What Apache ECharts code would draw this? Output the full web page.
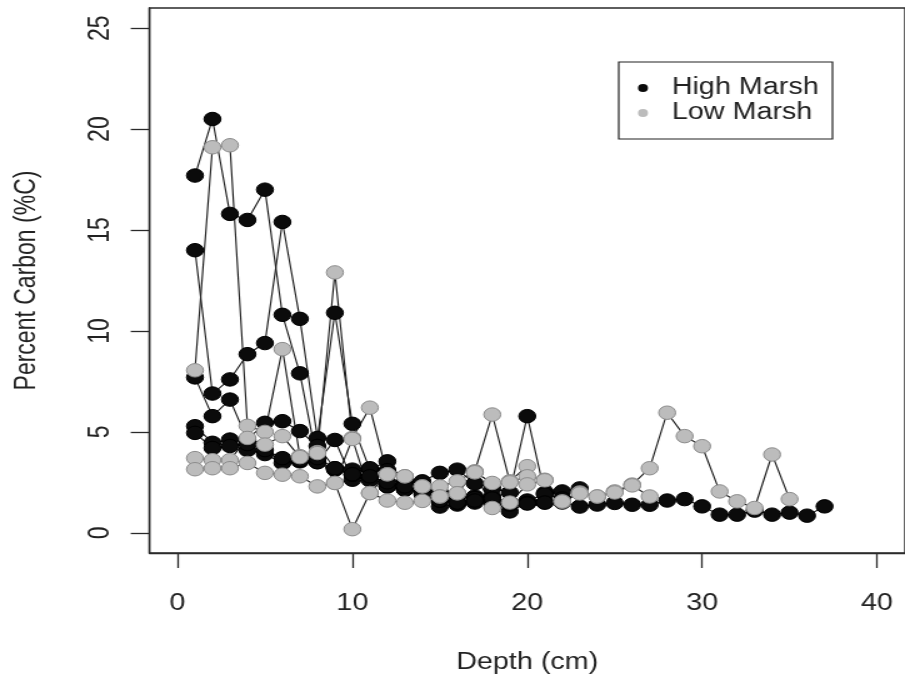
<!DOCTYPE html>
<html>
<head>
<meta charset="utf-8">
<script src="https://cdn.jsdelivr.net/npm/echarts@6.0.0/dist/echarts.min.js"></script>
<style>
  html, body { margin: 0; padding: 0; background: #fff; overflow: hidden; }
  #wrap { width: 905px; height: 685px; overflow: hidden; }
  /* the figure is laid out on a 724px-wide canvas and widened to 905px */
  #chart { width: 724px; height: 685px; transform: scaleX(1.25); transform-origin: 0 0; }
</style>
</head>
<body>
<div id="wrap"><div id="chart"></div></div>
<script>
// Sample depth (cm) for each slice of a core, shared by all cores
const depthCm = [1, 2, 3, 4, 5, 6, 7, 8, 9, 10, 11, 12, 13, 14, 15, 16, 17, 18, 19, 20,
                 21, 22, 23, 24, 25, 26, 27, 28, 29, 30, 31, 32, 33, 34, 35, 36, 37];

// High marsh cores: percent carbon by depth
const highCore1 = [17.7, 20.5, 15.8, 15.5, 17.0, 10.8, 7.9, 3.5, 4.6, 2.63, 2.75, 2.3, 2.14, 2.1,
                   1.3, 1.4, 1.8, 1.8, 1.06, 1.48, 1.5];
const highCore2 = [14.0, 6.9, 7.6, 8.85, 9.4, 15.4, 10.6, 4.7, 10.9, 5.4, 3.13, 3.54, 2.5, 2.55,
                   2.97, 3.13, 2.45, 2.2, 2.0, 5.78, 1.97, 2.05, 2.2];
const highCore3 = [7.7, 5.78, 6.6, 4.6, 5.45, 5.53, 5.04, 4.3, 3.2, 3.13, 3.2, 3.1, 2.6, 2.3,
                   2.0, 1.8, 1.72, 1.5, 1.5, 1.6, 1.9, 1.7];
const highCore4 = [5.28, 4.46, 4.62, 4.1, 3.9, 3.46, 3.54, 3.5, 3.13, 2.88, 2.6, 2.3, 2.14, 2.0,
                   1.6, 1.5, 1.5, 1.5, 1.4, 1.48, 1.5, 1.5, 1.3, 1.4, 1.48, 1.39, 1.39, 1.6, 1.67,
                   1.31, 0.9, 0.9, 1.1, 0.9, 1.0, 0.85, 1.31];
const highCore5 = [4.95, 4.2, 4.3, 4.4, 4.1, 3.7, 3.6, 3.7, 3.2, 2.9, 2.8, 2.5, 2.3, 1.9,
                   1.6, 1.5, 1.6, 1.7, 1.5, 1.45];

// Low marsh cores: percent carbon by depth
const lowCore1 = [8.05, 19.1, 19.2, 5.3, 5.0, 9.1, 3.8, 4.0, 12.9, 4.7, 6.2, 2.9, 2.8, 2.3,
                  2.3, 2.55, 3.05, 5.86, 2.55, 3.3];
const lowCore2 = [3.7, 3.6, 3.6, 4.7, 4.37, 4.79, 3.75, 3.95, 2.47, 4.65, 1.97, 2.9, 2.8, 2.3,
                  1.8, 1.96, 3.0, 2.47, 2.5, 2.8, 2.63, 1.55, 2.0, 1.8, 2.05, 2.39, 3.2, 5.95,
                  4.79, 4.29, 2.05, 1.56, 1.23, 3.88, 1.67];
const lowCore3 = [3.15, 3.2, 3.2, 3.46, 2.97, 2.88, 2.8, 2.3, 2.47, 0.18, 1.97, 1.6, 1.49, 1.58,
                  1.8, 1.96, 3.0, 1.23, 1.5, 2.4, 2.6, 1.55, 1.95, 1.8, 2.0, 2.35, 1.8];

// Axis ticks
const depthTicks = [0, 10, 20, 30, 40];
const carbonTicks = [0, 5, 10, 15, 20, 25];

const FONT = 'Liberation Sans, Arial, Helvetica, sans-serif';
const INK = '#222';

function coreSeries(name, values, fill, edge) {
  return {
    name: name,
    type: 'line',
    data: values.map((v, i) => [depthCm[i], v]),
    symbol: 'circle',
    symbolSize: 13.5,
    showSymbol: true,
    lineStyle: { color: '#1c1c1c', width: 1.15 },
    itemStyle: { color: fill, borderColor: edge, borderWidth: 1 },
    emphasis: { disabled: true },
    silent: true
  };
}

const HIGH_FILL = '#0b0b0b', HIGH_EDGE = '#000000';
const LOW_FILL = '#bcbcbc', LOW_EDGE = '#8c8c8c';

const series = [
  coreSeries('High Marsh', highCore1, HIGH_FILL, HIGH_EDGE),
  coreSeries('High Marsh', highCore2, HIGH_FILL, HIGH_EDGE),
  coreSeries('High Marsh', highCore3, HIGH_FILL, HIGH_EDGE),
  coreSeries('High Marsh', highCore4, HIGH_FILL, HIGH_EDGE),
  coreSeries('High Marsh', highCore5, HIGH_FILL, HIGH_EDGE),
  coreSeries('Low Marsh', lowCore1, LOW_FILL, LOW_EDGE),
  coreSeries('Low Marsh', lowCore2, LOW_FILL, LOW_EDGE),
  coreSeries('Low Marsh', lowCore3, LOW_FILL, LOW_EDGE)
];

const chart = echarts.init(document.getElementById('chart'), null, { renderer: 'canvas' });
chart.setOption({
  animation: false,
  backgroundColor: '#ffffff',
  textStyle: { fontFamily: FONT },
  grid: {
    left: 119.6, right: -1.7, top: 8, bottom: 132,
    show: true, borderColor: '#2a2a2a', borderWidth: 1.4, backgroundColor: 'transparent'
  },
  legend: {
    data: ['High Marsh', 'Low Marsh'],
    orient: 'vertical',
    left: 495, top: 62,
    padding: [14.5, 11, 14.5, 15.4],
    itemWidth: 8, itemHeight: 8, itemGap: 2,
    icon: 'circle',
    borderColor: '#222', borderWidth: 1.2,
    selectedMode: false,
    itemStyle: { borderWidth: 0 },
    textStyle: { fontFamily: FONT, fontSize: 23, color: INK, lineHeight: 23, padding: [0, 0, 0, 14] }
  },
  xAxis: {
    type: 'value',
    min: -1.6, max: 41.6,
    name: 'Depth (cm)',
    nameLocation: 'middle',
    nameGap: 98,
    nameTextStyle: { fontFamily: FONT, fontSize: 23, color: INK },
    axisLine: { show: true, onZero: false, lineStyle: { color: '#2a2a2a', width: 1.4 } },
    axisTick: { show: true, inside: false, length: 15, customValues: depthTicks,
                lineStyle: { color: '#2a2a2a', width: 1.3 } },
    axisLabel: { customValues: depthTicks, margin: 39, fontFamily: FONT, fontSize: 23, color: INK },
    splitLine: { show: false }
  },
  yAxis: {
    type: 'value',
    min: -1, max: 26,
    name: 'Percent Carbon (%C)',
    nameLocation: 'middle',
    nameGap: 86,
    nameRotate: 90,
    nameTextStyle: { fontFamily: FONT, fontSize: 23, color: INK },
    axisLine: { show: true, onZero: false, lineStyle: { color: '#2a2a2a', width: 1.4 } },
    axisTick: { show: true, inside: false, length: 15, customValues: carbonTicks,
                lineStyle: { color: '#2a2a2a', width: 1.3 } },
    axisLabel: { customValues: carbonTicks, rotate: 90, margin: 27, fontFamily: FONT, fontSize: 23, color: INK },
    splitLine: { show: false }
  },
  series: series
});
</script>
</body>
</html>
